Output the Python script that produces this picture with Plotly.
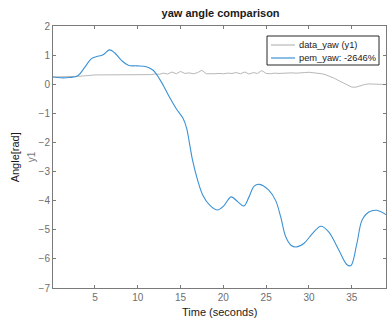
import numpy as np
import plotly.graph_objects as go

# measured yaw angle, sampled every 0.5 s from t = 0 to 39 s
data_time = np.arange(0, 39.01, 0.5)
data_yaw = [
    0.25, 0.25, 0.25, 0.25, 0.26, 0.26, 0.27, 0.28, 0.30, 0.31,
    0.32, 0.32, 0.32, 0.32, 0.32, 0.32, 0.32, 0.32, 0.32, 0.32,
    0.33, 0.33, 0.34, 0.33, 0.35, 0.34, 0.38, 0.35, 0.42, 0.36,
    0.44, 0.37, 0.39, 0.36, 0.40, 0.48, 0.36, 0.35, 0.36, 0.37,
    0.36, 0.38, 0.37, 0.40, 0.36, 0.42, 0.35, 0.40, 0.37, 0.47,
    0.37, 0.36, 0.38, 0.37, 0.38, 0.37, 0.39, 0.38, 0.40, 0.40,
    0.41, 0.40, 0.39, 0.36, 0.32, 0.27, 0.20, 0.12, 0.04, -0.04,
    -0.10, -0.10, -0.05, -0.01, 0.01, 0.00, 0.00, 0.00, -0.01,
]

# simulated PEM model response
pem_time = [
    0, 1, 2, 3, 3.8, 4.6, 5.2, 5.9, 6.7, 7.3, 8.1, 8.9, 9.9, 11, 11.8,
    12.5, 13, 13.7, 14.5, 15.3, 15.7, 16.05, 16.4, 17, 17.6, 18.4, 19.3,
    20.1, 20.9, 21.7, 22.4, 23, 23.6, 24.2, 25.3, 26.1, 26.7, 27.3, 27.9,
    28.5, 29.4, 30.4, 31.4, 32.3, 33.5, 34.45, 34.9, 35.6, 36.2, 37,
    37.9, 39,
]
pem_yaw = [
    0.25, 0.22, 0.23, 0.29, 0.58, 0.88, 0.95, 1.0, 1.18, 1.08, 0.82, 0.65,
    0.63, 0.60, 0.48, 0.20, -0.05, -0.44, -0.84, -1.18, -1.5, -2.04, -2.61,
    -3.3, -3.81, -4.15, -4.32, -4.16, -3.87, -4.04, -4.18, -3.87, -3.5,
    -3.44, -3.64, -3.99, -4.56, -5.25, -5.53, -5.59, -5.47, -5.13, -4.88,
    -5.07, -5.7, -6.2, -6.23, -5.47, -4.67, -4.39, -4.33, -4.48,
]

series_names = ["data_yaw (y1)", "pem_yaw: -2646%"]
series_colors = ["#b8b8b8", "#3b92d6"]

x_ticks = [5, 10, 15, 20, 25, 30, 35]
y_ticks = [-7, -6, -5, -4, -3, -2, -1, 0, 1, 2]

FONT = "Liberation Sans, Arial, sans-serif"
AXIS_GRAY = "#7a7a7a"

W, H = 387, 322
ML, MR, MT, MB = 53, 1, 26, 34
PW, PH = W - ML - MR, H - MT - MB


def px(x):
    """Horizontal pixel position -> paper fraction."""
    return (x - ML) / PW


def py(y):
    """Vertical pixel position (from top) -> paper fraction."""
    return (H - MB - y) / PH


fig = go.Figure()
fig.add_trace(go.Scatter(
    x=data_time, y=data_yaw, mode="lines", name=series_names[0],
    line=dict(color=series_colors[0], width=1),
))
fig.add_trace(go.Scatter(
    x=pem_time, y=pem_yaw, mode="lines", name=series_names[1],
    line=dict(color=series_colors[1], width=1.1, shape="spline", smoothing=1.0),
))

axis_common = dict(
    showgrid=False, zeroline=False, showline=True, linecolor=AXIS_GRAY,
    linewidth=1, mirror="ticks", ticks="inside", ticklen=3,
    tickcolor=AXIS_GRAY, tickfont=dict(family=FONT, size=10, color="#6e6e6e"),
)

fig.update_xaxes(range=[0.1, 39], tickvals=x_ticks, **axis_common)
fig.update_yaxes(range=[-7, 2], tickvals=y_ticks, **axis_common)

# boxed legend in the upper-right corner of the axes
legend_box = dict(x0=267, x1=379, y0=36, y1=65)
row_y = [45, 58]
shapes = [dict(
    type="rect", xref="paper", yref="paper",
    x0=px(legend_box["x0"]), x1=px(legend_box["x1"]),
    y0=py(legend_box["y1"]), y1=py(legend_box["y0"]),
    fillcolor="white", line=dict(color="#262626", width=1), layer="above",
)]
annotations = []
for name, color, ry in zip(series_names, series_colors, row_y):
    shapes.append(dict(
        type="line", xref="paper", yref="paper",
        x0=px(271), x1=px(295), y0=py(ry), y1=py(ry),
        line=dict(color=color, width=1.2), layer="above",
    ))
    annotations.append(dict(
        text=name, xref="paper", yref="paper", x=px(297), y=py(ry),
        xanchor="left", yanchor="middle", showarrow=False,
        font=dict(family=FONT, size=9.3, color="#1a1a1a"),
    ))

annotations += [
    dict(text="Time (seconds)", xref="paper", yref="paper", x=0.5, y=-0.09,
         xanchor="center", yanchor="middle", showarrow=False,
         font=dict(family=FONT, size=11, color="#1a1a1a")),
    dict(text="Angle[rad]", xref="paper", yref="paper", x=-0.113, y=0.5,
         xanchor="center", yanchor="middle", textangle=-90, showarrow=False,
         font=dict(family=FONT, size=11, color="#1a1a1a")),
    dict(text="y1", xref="paper", yref="paper", x=-0.065, y=0.5,
         xanchor="center", yanchor="middle", textangle=-90, showarrow=False,
         font=dict(family=FONT, size=10, color="#7a7a7a")),
]

fig.update_layout(
    width=W, height=H,
    margin=dict(l=ML, r=MR, t=MT, b=MB),
    paper_bgcolor="white", plot_bgcolor="white",
    font=dict(family=FONT),
    title=dict(
        text="<b>yaw angle comparison</b>", x=0.57, xanchor="center",
        y=0.96, yanchor="middle", font=dict(size=11, color="#1a1a1a"),
    ),
    showlegend=False,
    shapes=shapes,
    annotations=annotations,
)

fig.write_html("out.html")
